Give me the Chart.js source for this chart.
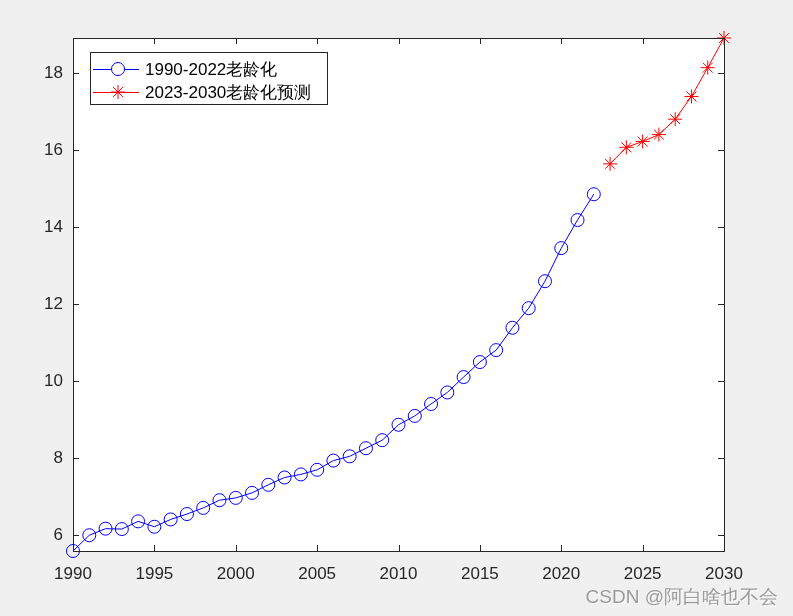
<!DOCTYPE html>
<html>
<head>
<meta charset="utf-8">
<script src="https://cdn.jsdelivr.net/npm/chart.js@4/dist/chart.umd.min.js"></script>
<style>
  html, body { margin: 0; padding: 0; background: #f0f0f0; }
  canvas { display: block; }
</style>
</head>
<body>
<canvas id="myChart" width="793" height="616"></canvas>
<script>
// data
const years1 = [1990, 1991, 1992, 1993, 1994, 1995, 1996, 1997, 1998, 1999, 2000,
                2001, 2002, 2003, 2004, 2005, 2006, 2007, 2008, 2009, 2010,
                2011, 2012, 2013, 2014, 2015, 2016, 2017, 2018, 2019, 2020, 2021, 2022];
const aging1 = [5.59, 6.0, 6.17, 6.16, 6.36, 6.22, 6.41, 6.55, 6.71, 6.91, 6.97,
                7.10, 7.31, 7.50, 7.58, 7.70, 7.94, 8.05, 8.26, 8.47, 8.87,
                9.10, 9.41, 9.71, 10.11, 10.50, 10.81, 11.39, 11.90, 12.60, 13.46, 14.19, 14.86];
const years2 = [2023, 2024, 2025, 2026, 2027, 2028, 2029, 2030];
const aging2 = [15.65, 16.08, 16.23, 16.41, 16.81, 17.40, 18.15, 18.92];

const xTicks = [1990, 1995, 2000, 2005, 2010, 2015, 2020, 2025, 2030];
const yTicks = [6, 8, 10, 12, 14, 16, 18];

const label1 = '1990-2022老龄化';
const label2 = '2023-2030老龄化预测';
const watermark = 'CSDN @阿白啥也不会';

const axisColor = '#262626';
const font = '"Liberation Sans", Arial, sans-serif';

// frame + inward ticks (matlab style)
const framePlugin = {
    id: 'frame',
    afterDraw(chart) {
        const { ctx, chartArea: a, scales } = chart;
        ctx.save();
        ctx.strokeStyle = axisColor;
        ctx.lineWidth = 1;
        ctx.strokeRect(Math.round(a.left) + 0.5, Math.round(a.top) + 0.5,
                       Math.round(a.right - a.left), Math.round(a.bottom - a.top));
        ctx.beginPath();
        xTicks.forEach(v => {
            const px = Math.round(scales.x.getPixelForValue(v)) + 0.5;
            ctx.moveTo(px, a.bottom); ctx.lineTo(px, a.bottom - 6);
            ctx.moveTo(px, a.top); ctx.lineTo(px, a.top + 6);
        });
        yTicks.forEach(v => {
            const py = Math.round(scales.y.getPixelForValue(v)) + 0.5;
            ctx.moveTo(a.left, py); ctx.lineTo(a.left + 6, py);
            ctx.moveTo(a.right, py); ctx.lineTo(a.right - 6, py);
        });
        ctx.stroke();

        // legend box
        const lx = 90, ly = 52, lw = 237, lh = 52;
        ctx.fillStyle = '#ffffff';
        ctx.fillRect(lx, ly, lw, lh);
        ctx.strokeStyle = axisColor;
        ctx.strokeRect(lx + 0.5, ly + 0.5, lw, lh);
        chart.data.datasets.forEach((ds, i) => {
            const cy = ly + 17 + i * 23;
            ctx.strokeStyle = ds.borderColor;
            ctx.lineWidth = 1;
            ctx.beginPath();
            ctx.moveTo(lx + 3, cy + 0.5); ctx.lineTo(lx + 49, cy + 0.5);
            ctx.stroke();
            Chart.helpers.drawPoint(ctx, {
                pointStyle: ds.pointStyle, radius: ds.pointRadius,
                borderWidth: 1, rotation: 0
            }, lx + 28, cy);
            ctx.fillStyle = '#000000';
            ctx.font = '17px ' + font;
            ctx.textBaseline = 'middle';
            ctx.textAlign = 'left';
            ctx.fillText(ds.label, lx + 55, cy + 1);
        });

        // watermark
        ctx.font = '19px ' + font;
        ctx.textAlign = 'right';
        ctx.textBaseline = 'middle';
        ctx.fillStyle = 'rgba(255,255,255,0.8)';
        ctx.fillText(watermark, 779, 599);
        ctx.fillStyle = '#9a9a9a';
        ctx.fillText(watermark, 778, 598);
        ctx.restore();
    }
};

const ctx = document.getElementById('myChart').getContext('2d');

const myChart = new Chart(ctx, {
    type: 'line',
    data: {
        datasets: [
            {
                label: label1,
                data: years1.map((yr, i) => ({ x: yr, y: aging1[i] })),
                borderColor: '#0000ff',
                backgroundColor: 'rgba(0,0,0,0)',
                borderWidth: 1,
                pointStyle: 'circle',
                pointRadius: 6.5,
                pointBorderWidth: 1,
                pointBorderColor: '#0000ff',
                pointBackgroundColor: 'rgba(0,0,0,0)',
                tension: 0,
                clip: false
            },
            {
                label: label2,
                data: years2.map((yr, i) => ({ x: yr, y: aging2[i] })),
                borderColor: '#ff0000',
                backgroundColor: 'rgba(0,0,0,0)',
                borderWidth: 1,
                pointStyle: 'star',
                pointRadius: 7,
                pointBorderWidth: 1,
                pointBorderColor: '#ff0000',
                pointBackgroundColor: 'rgba(0,0,0,0)',
                tension: 0,
                clip: false
            }
        ]
    },
    options: {
        responsive: false,
        animation: false,
        devicePixelRatio: 1,
        layout: { padding: { top: 38, right: 69, left: 0, bottom: 0 } },
        plugins: {
            legend: { display: false },
            tooltip: { enabled: false }
        },
        scales: {
            x: {
                type: 'linear',
                min: 1990,
                max: 2030,
                afterBuildTicks: s => { s.ticks = xTicks.map(v => ({ value: v })); },
                afterFit: s => { s.height = 65; },
                grid: { display: false, drawTicks: false },
                border: { display: false },
                ticks: {
                    padding: 13,
                    color: axisColor,
                    font: { family: font, size: 17 },
                    callback: v => String(v)
                }
            },
            y: {
                type: 'linear',
                min: 5.59,
                max: 18.92,
                afterBuildTicks: s => { s.ticks = yTicks.map(v => ({ value: v })); },
                afterFit: s => { s.width = 73; },
                grid: { display: false, drawTicks: false },
                border: { display: false },
                ticks: {
                    padding: 10,
                    color: axisColor,
                    font: { family: font, size: 17 },
                    callback: v => String(v)
                }
            }
        }
    },
    plugins: [{
        id: 'whiteArea',
        beforeDraw(chart) {
            const { ctx, chartArea: a } = chart;
            ctx.save();
            ctx.fillStyle = '#ffffff';
            ctx.fillRect(a.left, a.top, a.right - a.left, a.bottom - a.top);
            ctx.restore();
        }
    }, framePlugin]
});
</script>
</body>
</html>
